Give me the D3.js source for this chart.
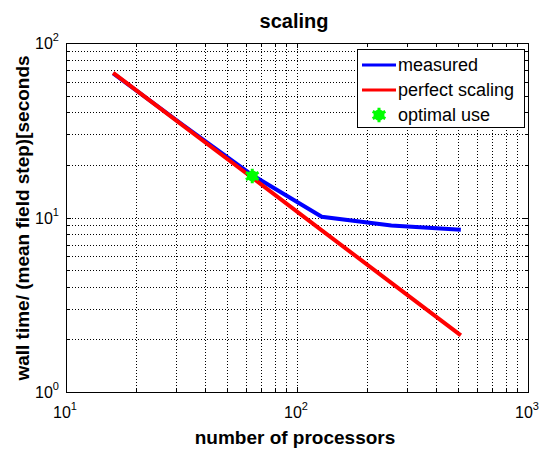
<!doctype html>
<html lang="en">
  <head>
    <meta charset="utf-8">
    <title>scaling</title>
    <script src="https://d3js.org/d3.v7.min.js"></script>
    <style>
      body { margin: 0; background: #fff; }
      text { font-family: "Liberation Sans", Arial, sans-serif; }
    </style>
  </head>

  <body>
    <svg width="540" height="450"></svg>
    <script>
      // data
      var processors = [16, 32, 64, 128, 256, 512];
      var measured = [67, 34, 17.5, 10.1, 9.0, 8.5];
      var perfect = [67.5, 33.75, 16.9, 8.44, 4.22, 2.11];
      var optimal = {p: 64, t: 17.3};
      var xTicks = [10, 100, 1000];
      var yTicks = [1, 10, 100];
      var legendLabels = ['measured', 'perfect scaling', 'optimal use'];

      var svg = d3.select('svg');
      var pLeft = 66, pRight = 528, pTop = 43, pBottom = 392;

      var x = d3.scaleLog().domain([10, 1000]).range([pLeft, pRight]);
      var y = d3.scaleLog().domain([1, 100]).range([pBottom, pTop]);

      svg.append('rect')
        .attr('x', pLeft).attr('y', pTop)
        .attr('width', pRight - pLeft).attr('height', pBottom - pTop)
        .style('fill', '#fff');

      // grid at every 1..9 x decade
      var xGrid = [], yGrid = [];
      [10, 100].forEach(function(d){ for (var i = 1; i < 10; i++) xGrid.push(d * i); });
      [1, 10].forEach(function(d){ for (var i = 1; i < 10; i++) yGrid.push(d * i); });
      xGrid = xGrid.filter(function(d){ return d > 10; });
      yGrid = yGrid.filter(function(d){ return d > 1; });

      svg.append('g').selectAll('line').data(xGrid).enter().append('line')
        .attr('x1', function(d){ return Math.round(x(d)) + 0.5; })
        .attr('x2', function(d){ return Math.round(x(d)) + 0.5; })
        .attr('y1', pTop).attr('y2', pBottom)
        .style('stroke', '#000').style('stroke-width', 1).style('stroke-dasharray', '1,2');

      svg.append('g').selectAll('line').data(yGrid).enter().append('line')
        .attr('y1', function(d){ return Math.round(y(d)) + 0.5; })
        .attr('y2', function(d){ return Math.round(y(d)) + 0.5; })
        .attr('x1', pLeft).attr('x2', pRight)
        .style('stroke', '#000').style('stroke-width', 1).style('stroke-dasharray', '1,2');

      // inward ticks on all four sides
      var ticks = svg.append('g').style('stroke', '#000');
      xGrid.concat(xTicks).forEach(function(d){
        var len = xTicks.indexOf(d) >= 0 ? 5 : 3;
        var px = Math.round(x(d)) + 0.5;
        ticks.append('line').attr('x1', px).attr('x2', px).attr('y1', pBottom).attr('y2', pBottom - len);
        ticks.append('line').attr('x1', px).attr('x2', px).attr('y1', pTop).attr('y2', pTop + len);
      });
      yGrid.concat(yTicks).forEach(function(d){
        var len = yTicks.indexOf(d) >= 0 ? 5 : 3;
        var py = Math.round(y(d)) + 0.5;
        ticks.append('line').attr('y1', py).attr('y2', py).attr('x1', pLeft).attr('x2', pLeft + len);
        ticks.append('line').attr('y1', py).attr('y2', py).attr('x1', pRight).attr('x2', pRight - len);
      });

      var line = d3.line()
        .x(function(d){ return x(d[0]); })
        .y(function(d){ return y(d[1]); });

      svg.append('path')
        .datum(d3.zip(processors, measured))
        .attr('d', line)
        .style('fill', 'none').style('stroke', '#0000ff').style('stroke-width', 4);

      svg.append('path')
        .datum(d3.zip(processors, perfect))
        .attr('d', line)
        .style('fill', 'none').style('stroke', '#ff0000').style('stroke-width', 4);

      var star = d3.symbol().type(d3.symbolAsterisk).size(150);
      function drawStar(g, cx, cy){
        g.append('circle').attr('cx', cx).attr('cy', cy).attr('r', 5.5).style('fill', '#00ff00');
        g.append('path').attr('d', star())
          .attr('transform', 'translate(' + cx + ',' + cy + ')')
          .style('fill', 'none').style('stroke', '#00ff00').style('stroke-width', 3);
      }
      drawStar(svg, x(optimal.p), y(optimal.t));

      // frame
      svg.append('rect')
        .attr('x', pLeft + 0.5).attr('y', pTop + 0.5)
        .attr('width', pRight - pLeft).attr('height', pBottom - pTop)
        .style('fill', 'none').style('stroke', '#000').style('stroke-width', 1);

      // tick labels as 10^n
      function powerLabel(sel, d){
        var e = Math.round(Math.log10(d));
        sel.text('10');
        sel.append('tspan').attr('dy', -8).style('font-size', '11px').text(e);
      }

      svg.append('g').selectAll('text').data(xTicks).enter().append('text')
        .attr('x', function(d){ return x(d) - 13; })
        .attr('y', pBottom + 26)
        .style('font-size', '16px')
        .each(function(d){ powerLabel(d3.select(this), d); });

      svg.append('g').selectAll('text').data(yTicks).enter().append('text')
        .attr('x', pLeft - 31)
        .attr('y', function(d){ return y(d) + 6; })
        .style('font-size', '16px')
        .each(function(d){ powerLabel(d3.select(this), d); });

      svg.append('text')
        .attr('x', 294).attr('y', 28)
        .attr('text-anchor', 'middle')
        .style('font-size', '20px').style('font-weight', 'bold')
        .text('scaling');

      svg.append('text')
        .attr('x', 295).attr('y', 444)
        .attr('text-anchor', 'middle')
        .style('font-size', '19px').style('font-weight', 'bold')
        .text('number of processors');

      svg.append('text')
        .attr('transform', 'translate(29,218) rotate(-90)')
        .attr('text-anchor', 'middle')
        .style('font-size', '19px').style('font-weight', 'bold')
        .text('wall time/ (mean field step)[seconds');

      // legend
      var lg = svg.append('g');
      lg.append('rect')
        .attr('x', 357.5).attr('y', 49.5).attr('width', 167).attr('height', 78)
        .style('fill', '#fff').style('stroke', '#000');
      var colors = ['#0000ff', '#ff0000', '#00ff00'];
      legendLabels.forEach(function(label, i){
        var ly = 65 + i * 25;
        if (i < 2) {
          lg.append('line').attr('x1', 362).attr('x2', 396).attr('y1', ly).attr('y2', ly)
            .style('stroke', colors[i]).style('stroke-width', 3);
        } else {
          drawStar(lg, 379, ly);
        }
        lg.append('text').attr('x', 398).attr('y', ly + 6)
          .style('font-size', '18px')
          .text(label);
      });
    </script>
  </body>
</html>
